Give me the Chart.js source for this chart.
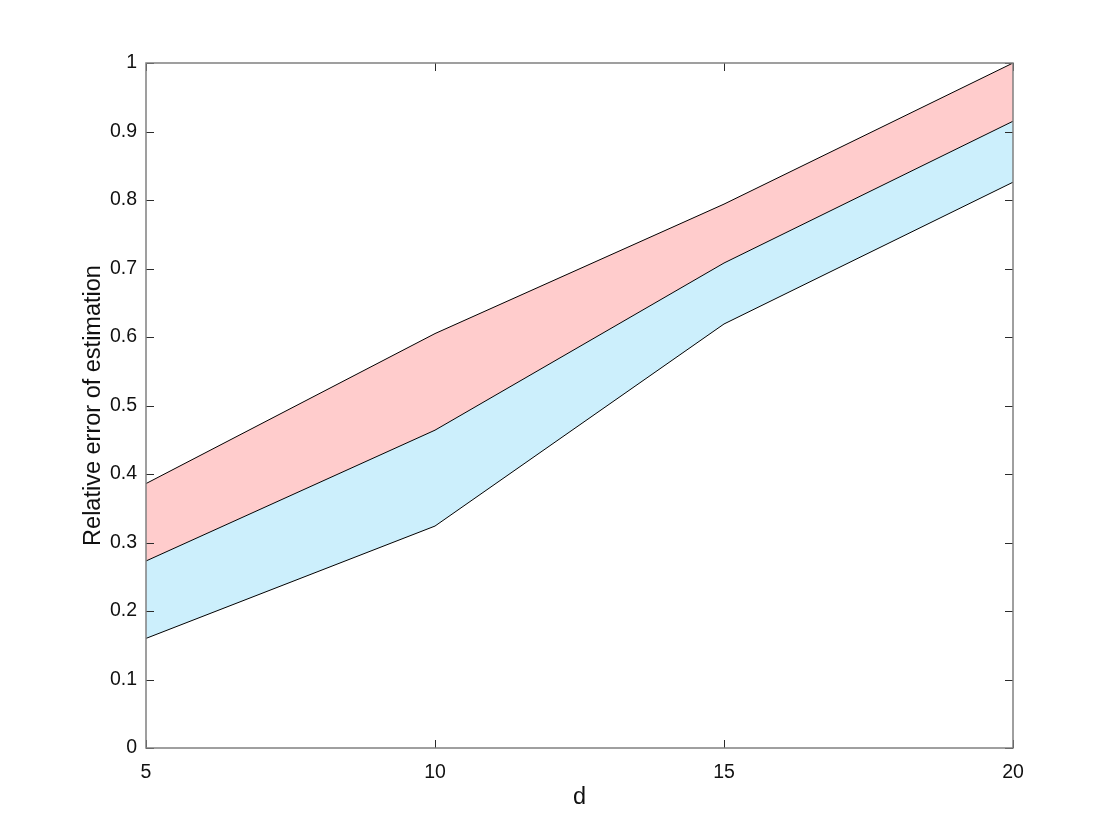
<!DOCTYPE html>
<html>
<head>
<meta charset="utf-8">
<script src="https://cdn.jsdelivr.net/npm/chart.js@4/dist/chart.umd.min.js"></script>
<style>
  html, body { margin: 0; padding: 0; background: #fff; }
  #wrap { width: 1120px; height: 840px; }
</style>
</head>
<body>
<div id="wrap"><canvas id="canv" width="1120" height="840"></canvas></div>
<script>
// values
var dValues = [5, 10, 15, 20];
var lowerBound = [0.160, 0.324, 0.619, 0.826];
var middleBound = [0.273, 0.464, 0.708, 0.915];
var upperBound = [0.386, 0.605, 0.794, 1.0];
var xTicks = [5, 10, 15, 20];
var yTicks = [0, 0.1, 0.2, 0.3, 0.4, 0.5, 0.6, 0.7, 0.8, 0.9, 1];

function toPoints(ys) {
  var pts = [];
  for (var i = 0; i < dValues.length; i++) {
    pts.push({x: dValues[i], y: ys[i]});
  }
  return pts;
}

// matlab style box with inward ticks
var boxTicks = {
  id: 'boxTicks',
  afterDatasetsDraw: function(chart) {
    var ctx = chart.ctx, a = chart.chartArea;
    var xs = chart.scales.x, ys = chart.scales.y;
    var len = 8;
    ctx.save();
    ctx.strokeStyle = '#2b2b2b';
    ctx.lineWidth = 1;
    ctx.beginPath();
    for (var i = 0; i < xTicks.length; i++) {
      var px = Math.round(xs.getPixelForValue(xTicks[i])) + 0.5;
      ctx.moveTo(px, a.bottom); ctx.lineTo(px, a.bottom - len);
      ctx.moveTo(px, a.top); ctx.lineTo(px, a.top + len);
    }
    for (var j = 0; j < yTicks.length; j++) {
      var py = Math.round(ys.getPixelForValue(yTicks[j])) + 0.5;
      ctx.moveTo(a.left, py); ctx.lineTo(a.left + len, py);
      ctx.moveTo(a.right, py); ctx.lineTo(a.right - len, py);
    }
    ctx.stroke();
    ctx.strokeStyle = '#808080';
    ctx.lineWidth = 1.5;
    ctx.strokeRect(a.left, a.top, a.right - a.left, a.bottom - a.top);
    ctx.restore();
  }
};

var chart = new Chart(document.getElementById('canv'), {
  type: 'line',
  data: {
    datasets: [{
      data: toPoints(lowerBound),
      borderColor: '#000',
      borderWidth: 1,
      pointRadius: 0,
      fill: false
    }, {
      data: toPoints(middleBound),
      borderColor: '#000',
      borderWidth: 1,
      pointRadius: 0,
      backgroundColor: 'rgb(204, 239, 252)',
      fill: '-1'
    }, {
      data: toPoints(upperBound),
      borderColor: '#000',
      borderWidth: 1,
      pointRadius: 0,
      backgroundColor: 'rgb(255, 204, 204)',
      fill: '-1'
    }]
  },
  options: {
    responsive: false,
    animation: false,
    layout: { padding: { left: 0, top: 63, right: 107, bottom: 0 } },
    elements: { line: { tension: 0 } },
    plugins: {
      legend: { display: false },
      tooltip: { enabled: false },
      filler: { drawTime: 'beforeDatasetsDraw' }
    },
    scales: {
      x: {
        type: 'linear',
        min: 5,
        max: 20,
        afterFit: function(s) { s.height = 92; },
        afterBuildTicks: function(s) { s.ticks = xTicks.map(function(v) { return {value: v}; }); },
        grid: { display: false, drawTicks: false },
        border: { display: false },
        ticks: {
          padding: 13,
          color: '#111',
          maxRotation: 0,
          font: { family: 'Liberation Sans', size: 19.5 }
        },
        title: {
          display: true,
          text: 'd',
          color: '#111',
          padding: { top: 4, bottom: 28 },
          font: { family: 'Liberation Sans', size: 23.5 }
        }
      },
      y: {
        min: 0,
        max: 1,
        afterFit: function(s) { s.width = 146; },
        afterBuildTicks: function(s) { s.ticks = yTicks.map(function(v) { return {value: v}; }); },
        grid: { display: false, drawTicks: false },
        border: { display: false },
        ticks: {
          padding: 9,
          color: '#111',
          font: { family: 'Liberation Sans', size: 19.5 },
          callback: function(v) { return String(Math.round(v * 10) / 10); }
        },
        title: {
          display: true,
          text: 'Relative error of estimation',
          color: '#111',
          padding: { top: 79, bottom: 0 },
          font: { family: 'Liberation Sans', size: 23.5 }
        }
      }
    }
  },
  plugins: [boxTicks]
});
</script>
</body>
</html>
